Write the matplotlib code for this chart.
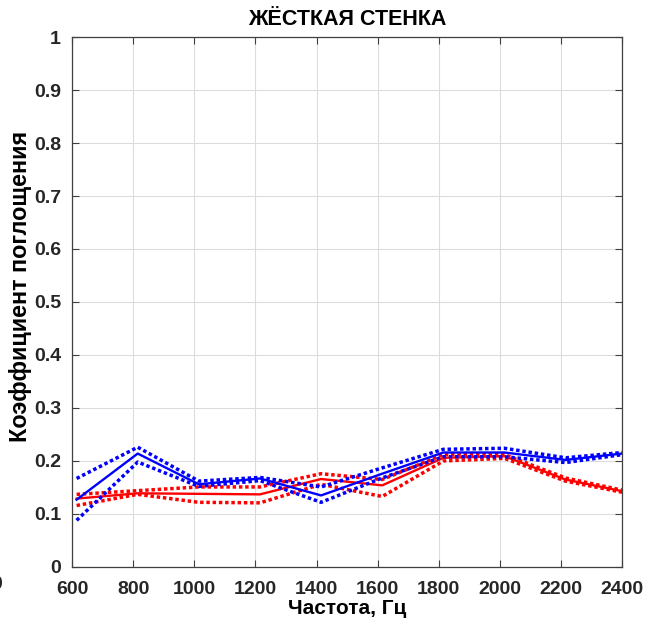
import matplotlib
matplotlib.use('Agg')
import matplotlib.pyplot as plt
import numpy as np

# frequencies, Hz
freq = [615, 815, 1015, 1215, 1415, 1615, 1815, 2015, 2215, 2400]

# red set: mean and bounds
red_mid = [0.129, 0.139, 0.138, 0.137, 0.166, 0.154, 0.206, 0.209, 0.165, 0.143]
red_up = [0.137, 0.144, 0.151, 0.151, 0.176, 0.165, 0.212, 0.212, 0.168, 0.145]
red_lo = [0.116, 0.137, 0.122, 0.121, 0.156, 0.133, 0.200, 0.205, 0.162, 0.141]

# blue set: mean and bounds
blue_mid = [0.127, 0.214, 0.156, 0.167, 0.135, 0.176, 0.216, 0.216, 0.202, 0.214]
blue_up = [0.167, 0.226, 0.162, 0.169, 0.151, 0.187, 0.222, 0.224, 0.206, 0.216]
blue_lo = [0.088, 0.198, 0.152, 0.163, 0.122, 0.168, 0.208, 0.208, 0.197, 0.212]

plt.rcParams['font.family'] = ['Liberation Sans', 'DejaVu Sans']
plt.rcParams['font.weight'] = 'bold'

fig = plt.figure(figsize=(6.46, 6.21), dpi=100)
ax = fig.add_axes([0.1115, 0.087, 0.8515, 0.8534])

dots = (0, (1, 0.8))
ax.plot(freq, red_up, color='red', ls=dots, lw=2.5)
ax.plot(freq, red_lo, color='red', ls=dots, lw=2.5)
ax.plot(freq, red_mid, color='red', ls='-', lw=1.7)
ax.plot(freq, blue_up, color='blue', ls=dots, lw=2.5)
ax.plot(freq, blue_lo, color='blue', ls=dots, lw=2.5)
ax.plot(freq, blue_mid, color='blue', ls='-', lw=1.7)

ax.set_xlim(600, 2400)
ax.set_ylim(0, 1)
ax.set_xticks(np.arange(600, 2401, 200))
ax.set_yticks(np.arange(0, 1.01, 0.1))
ax.set_yticklabels(['0', '0.1', '0.2', '0.3', '0.4', '0.5', '0.6', '0.7', '0.8', '0.9', '1'])
ax.grid(True, color='#dcdcdc', lw=0.8)
ax.set_axisbelow(True)
ax.tick_params(direction='in', top=True, right=True, labelsize=14, length=5,
               color='#404040', labelcolor='#262626')
ax.tick_params(axis='x', pad=10)
ax.tick_params(axis='y', pad=8)
for lab in ax.get_xticklabels() + ax.get_yticklabels():
    lab.set_fontweight('bold')
for s in ax.spines.values():
    s.set_color('#404040')
    s.set_linewidth(0.9)

ax.set_title('ЖЁСТКАЯ СТЕНКА', fontsize=15.5, fontweight='bold', pad=9)
ax.set_xlabel('Частота, Гц', fontsize=15, fontweight='bold', labelpad=1)
ax.set_ylabel('Коэффициент поглощения', fontsize=16.8, fontweight='bold')
ax.yaxis.set_label_coords(-0.073, 0.53)

# clipped label from neighbouring panel
fig.text(-0.013, 0.052, '0', fontsize=14, fontweight='bold', color='#262626')

fig.savefig('out.png', dpi=100)
